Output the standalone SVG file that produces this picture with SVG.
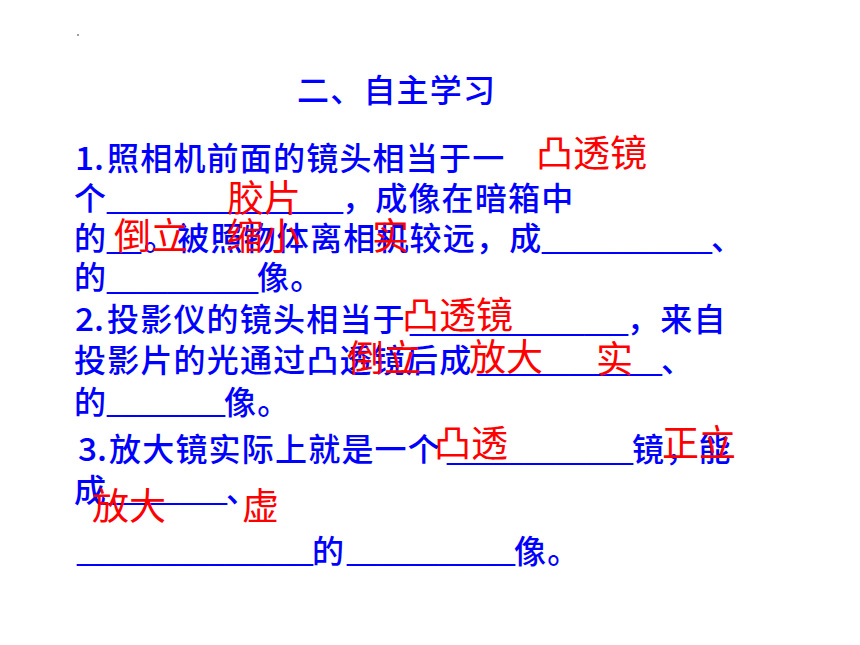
<svg xmlns="http://www.w3.org/2000/svg" width="860" height="645" viewBox="0 0 860 645">
<style>
.b{fill:#0000ff;font-family:"Noto Sans CJK SC","Noto Sans CJK JP",sans-serif;font-size:32px;letter-spacing:1.2px;font-weight:500}
.n{fill:#0000ff;font-family:"Noto Sans CJK SC",sans-serif;font-size:32px;font-weight:500}
.u{fill:#0000ff;font-family:"Liberation Sans",sans-serif;font-size:30px}
.r{fill:#ff0000;font-family:"Noto Sans CJK SC","Noto Sans CJK JP",sans-serif;font-size:37px;font-weight:normal}
</style>
<rect width="860" height="645" fill="#ffffff"/>
<rect x="77" y="34" width="2" height="2" fill="#a0a0a0"/>
<g id="title">
<text class="b" x="297" y="102">二、自主学习</text>
</g>
<g id="item1">
<text class="n" x="75" y="170" textLength="29" lengthAdjust="spacingAndGlyphs">1.</text>
<text class="b" x="107" y="170">照相机前面的镜头相当于一</text>
<text class="b" x="74" y="210">个</text>
<text class="u" x="107" y="208.3" textLength="236" lengthAdjust="spacingAndGlyphs">________________</text>
<text class="b" x="342" y="210">，成像在暗箱中</text>
<text class="b" x="74" y="250">的</text>
<text class="u" x="107" y="248.3" textLength="34" lengthAdjust="spacingAndGlyphs">__</text>
<text class="b" x="144" y="250">。被照物体离相机较远，成</text>
<text class="u" x="542" y="248.3" textLength="170" lengthAdjust="spacingAndGlyphs">___________</text>
<text class="b" x="711" y="250">、</text>
<text class="b" x="74" y="289">的</text>
<text class="u" x="107" y="288.3" textLength="151" lengthAdjust="spacingAndGlyphs">__________</text>
<text class="b" x="257" y="289">像。</text>
<text class="r" x="536" y="167">凸透镜</text>
<text class="r" x="227" y="212">胶片</text>
<text class="r" x="114" y="250">倒立</text>
<text class="r" x="226" y="250">缩小</text>
<text class="r" x="372" y="250">实</text>
</g>
<g id="item2">
<text class="n" x="75" y="331" textLength="29" lengthAdjust="spacingAndGlyphs">2.</text>
<text class="b" x="107" y="331">投影仪的镜头相当于</text>
<text class="u" x="410" y="330.3" textLength="218" lengthAdjust="spacingAndGlyphs">_______________</text>
<text class="b" x="627" y="331">，来自</text>
<text class="b" x="74" y="372">投影片的光通过凸透镜后成</text>
<text class="u" x="477" y="370.3" textLength="185" lengthAdjust="spacingAndGlyphs">____________</text>
<text class="b" x="661" y="372">、</text>
<text class="b" x="74" y="414">的</text>
<text class="u" x="107" y="411.3" textLength="118" lengthAdjust="spacingAndGlyphs">________</text>
<text class="b" x="224" y="414">像。</text>
<text class="r" x="402" y="329">凸透镜</text>
<text class="r" x="347" y="372">倒立</text>
<text class="r" x="469" y="371">放大</text>
<text class="r" x="596" y="373">实</text>
</g>
<g id="item3">
<text class="n" x="78" y="461" textLength="29" lengthAdjust="spacingAndGlyphs">3.</text>
<text class="b" x="109" y="461">放大镜实际上就是一个</text>
<text class="u" x="447" y="459.3" textLength="186" lengthAdjust="spacingAndGlyphs">____________</text>
<text class="b" x="632" y="461">镜，能</text>
<text class="b" x="74" y="502">成</text>
<text class="u" x="103" y="499.3" textLength="124" lengthAdjust="spacingAndGlyphs">________</text>
<text class="b" x="226" y="502">、</text>
<text class="u" x="77" y="560.3" textLength="236" lengthAdjust="spacingAndGlyphs">________________</text>
<text class="b" x="312" y="563">的</text>
<text class="u" x="347" y="560.3" textLength="168" lengthAdjust="spacingAndGlyphs">___________</text>
<text class="b" x="514" y="563">像。</text>
<text class="r" x="434" y="457">凸透</text>
<text class="r" x="662" y="457">正立</text>
<text class="r" x="92" y="520">放大</text>
<text class="r" x="242" y="520">虚</text>
</g>
</svg>
